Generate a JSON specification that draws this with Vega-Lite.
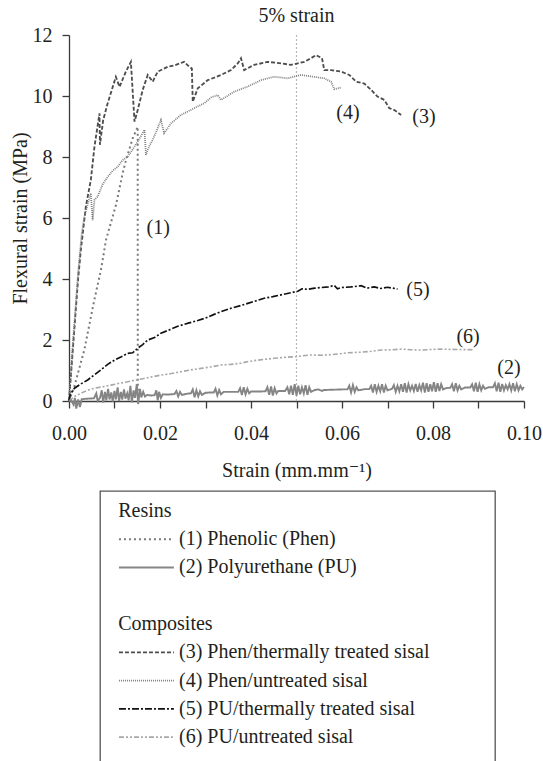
{
  "$schema": "https://vega.github.io/schema/vega-lite/v6.json",
  "padding": {"left": 10, "top": 6, "right": 0, "bottom": -6},
  "config": {
    "font": "Liberation Serif, Times New Roman, DejaVu Serif, serif",
    "view": {"stroke": null},
    "axis": {"labelFont": "Liberation Serif, Times New Roman, DejaVu Serif, serif", "titleFont": "Liberation Serif, Times New Roman, DejaVu Serif, serif", "labelFontSize": 20, "titleFontSize": 20, "titleFontWeight": "normal", "labelColor": "#231f20", "titleColor": "#231f20", "domainColor": "#3a3a3a", "tickColor": "#3a3a3a", "domainWidth": 1.3, "tickWidth": 1.3, "tickSize": 7, "grid": false},
    "title": {"font": "Liberation Serif, Times New Roman, DejaVu Serif, serif", "fontSize": 20, "fontWeight": "normal", "color": "#231f20"},
    "text": {"font": "Liberation Serif, Times New Roman, DejaVu Serif, serif", "fontSize": 20, "color": "#231f20"}
  },
  "datasets": {
    "marker": [{"strain": 0.05}],
    "labels": [
      {"tag": "(1)", "strain": 0.0196, "stress": 5.67},
      {"tag": "(2)", "strain": 0.0967, "stress": 1.08},
      {"tag": "(3)", "strain": 0.078, "stress": 9.31},
      {"tag": "(4)", "strain": 0.0613, "stress": 9.44},
      {"tag": "(5)", "strain": 0.0767, "stress": 3.64},
      {"tag": "(6)", "strain": 0.0877, "stress": 2.1}
    ],
    "legend": [
      {"row": "Resins", "label": "Resins"},
      {"row": "1", "label": "(1) Phenolic (Phen)", "series": "1"},
      {"row": "2", "label": "(2) Polyurethane (PU)", "series": "2"},
      {"row": "Composites", "label": "Composites"},
      {"row": "3", "label": "(3) Phen/thermally treated sisal", "series": "3"},
      {"row": "4", "label": "(4) Phen/untreated sisal", "series": "4"},
      {"row": "5", "label": "(5) PU/thermally treated sisal", "series": "5"},
      {"row": "6", "label": "(6) PU/untreated sisal", "series": "6"}
    ],
    "curves": [
      {"series": "1", "strain": 0, "stress": 0},
      {"series": "1", "strain": 0.00116, "stress": 0.47},
      {"series": "1", "strain": 0.00336, "stress": 1.67},
      {"series": "1", "strain": 0.00556, "stress": 3.31},
      {"series": "1", "strain": 0.00703, "stress": 4.3},
      {"series": "1", "strain": 0.00813, "stress": 5.28},
      {"series": "1", "strain": 0.01033, "stress": 6.43},
      {"series": "1", "strain": 0.0118, "stress": 7.47},
      {"series": "1", "strain": 0.01253, "stress": 7.9},
      {"series": "1", "strain": 0.014, "stress": 8.61},
      {"series": "1", "strain": 0.0151, "stress": 8.99},
      {"series": "1", "strain": 0.01512, "stress": 0.1},

      {"series": "3", "strain": 0, "stress": 0},
      {"series": "3", "strain": 0.001, "stress": 2.0},
      {"series": "3", "strain": 0.002, "stress": 4.0},
      {"series": "3", "strain": 0.0026, "stress": 4.95},
      {"series": "3", "strain": 0.0037, "stress": 6.37},
      {"series": "3", "strain": 0.0048, "stress": 7.25},
      {"series": "3", "strain": 0.0056, "stress": 8.34},
      {"series": "3", "strain": 0.0067, "stress": 9.43},
      {"series": "3", "strain": 0.0068, "stress": 8.4},
      {"series": "3", "strain": 0.0075, "stress": 9.2},
      {"series": "3", "strain": 0.0085, "stress": 9.76},
      {"series": "3", "strain": 0.0103, "stress": 10.63},
      {"series": "3", "strain": 0.0111, "stress": 10.3},
      {"series": "3", "strain": 0.0125, "stress": 10.8},
      {"series": "3", "strain": 0.0136, "stress": 11.12},
      {"series": "3", "strain": 0.0144, "stress": 9.16},
      {"series": "3", "strain": 0.0151, "stress": 9.54},
      {"series": "3", "strain": 0.0162, "stress": 10.2},
      {"series": "3", "strain": 0.0173, "stress": 10.69},
      {"series": "3", "strain": 0.0184, "stress": 10.47},
      {"series": "3", "strain": 0.0195, "stress": 10.8},
      {"series": "3", "strain": 0.0217, "stress": 10.96},
      {"series": "3", "strain": 0.0231, "stress": 11.0},
      {"series": "3", "strain": 0.0253, "stress": 11.12},
      {"series": "3", "strain": 0.0264, "stress": 10.96},
      {"series": "3", "strain": 0.027, "stress": 10.9},
      {"series": "3", "strain": 0.0272, "stress": 9.81},
      {"series": "3", "strain": 0.0283, "stress": 10.25},
      {"series": "3", "strain": 0.0305, "stress": 10.52},
      {"series": "3", "strain": 0.0334, "stress": 10.69},
      {"series": "3", "strain": 0.0356, "stress": 10.85},
      {"series": "3", "strain": 0.0371, "stress": 11.07},
      {"series": "3", "strain": 0.0378, "stress": 11.24},
      {"series": "3", "strain": 0.0385, "stress": 10.85},
      {"series": "3", "strain": 0.0407, "stress": 11.02},
      {"series": "3", "strain": 0.0437, "stress": 11.12},
      {"series": "3", "strain": 0.0466, "stress": 11.07},
      {"series": "3", "strain": 0.0488, "stress": 11.02},
      {"series": "3", "strain": 0.0517, "stress": 11.12},
      {"series": "3", "strain": 0.0532, "stress": 11.24},
      {"series": "3", "strain": 0.0543, "stress": 11.34},
      {"series": "3", "strain": 0.0556, "stress": 11.24},
      {"series": "3", "strain": 0.0561, "stress": 10.85},
      {"series": "3", "strain": 0.0576, "stress": 10.85},
      {"series": "3", "strain": 0.0598, "stress": 10.8},
      {"series": "3", "strain": 0.0616, "stress": 10.69},
      {"series": "3", "strain": 0.0631, "stress": 10.47},
      {"series": "3", "strain": 0.0649, "stress": 10.41},
      {"series": "3", "strain": 0.0664, "stress": 10.2},
      {"series": "3", "strain": 0.0678, "stress": 9.98},
      {"series": "3", "strain": 0.0693, "stress": 9.87},
      {"series": "3", "strain": 0.0704, "stress": 9.6},
      {"series": "3", "strain": 0.0715, "stress": 9.54},
      {"series": "3", "strain": 0.073, "stress": 9.38},

      {"series": "4", "strain": 0, "stress": 0},
      {"series": "4", "strain": 0.001, "stress": 2.2},
      {"series": "4", "strain": 0.002, "stress": 4.2},
      {"series": "4", "strain": 0.0028, "stress": 5.5},
      {"series": "4", "strain": 0.0034, "stress": 6.04},
      {"series": "4", "strain": 0.0042, "stress": 6.5},
      {"series": "4", "strain": 0.0048, "stress": 6.81},
      {"series": "4", "strain": 0.0052, "stress": 5.93},
      {"series": "4", "strain": 0.0056, "stress": 6.6},
      {"series": "4", "strain": 0.0063, "stress": 6.7},
      {"series": "4", "strain": 0.0074, "stress": 7.1},
      {"series": "4", "strain": 0.0085, "stress": 7.35},
      {"series": "4", "strain": 0.0096, "stress": 7.55},
      {"series": "4", "strain": 0.0107, "stress": 7.68},
      {"series": "4", "strain": 0.0118, "stress": 7.9},
      {"series": "4", "strain": 0.0129, "stress": 8.01},
      {"series": "4", "strain": 0.0144, "stress": 8.34},
      {"series": "4", "strain": 0.0155, "stress": 8.6},
      {"series": "4", "strain": 0.0166, "stress": 8.89},
      {"series": "4", "strain": 0.0169, "stress": 8.07},
      {"series": "4", "strain": 0.0176, "stress": 8.35},
      {"series": "4", "strain": 0.0184, "stress": 8.56},
      {"series": "4", "strain": 0.0195, "stress": 8.95},
      {"series": "4", "strain": 0.0202, "stress": 9.21},
      {"series": "4", "strain": 0.0209, "stress": 8.78},
      {"series": "4", "strain": 0.0224, "stress": 9.1},
      {"series": "4", "strain": 0.0246, "stress": 9.38},
      {"series": "4", "strain": 0.0261, "stress": 9.49},
      {"series": "4", "strain": 0.0275, "stress": 9.6},
      {"series": "4", "strain": 0.0297, "stress": 9.76},
      {"series": "4", "strain": 0.0312, "stress": 9.95},
      {"series": "4", "strain": 0.0327, "stress": 10.03},
      {"series": "4", "strain": 0.0334, "stress": 9.87},
      {"series": "4", "strain": 0.0363, "stress": 10.14},
      {"series": "4", "strain": 0.0393, "stress": 10.31},
      {"series": "4", "strain": 0.0422, "stress": 10.52},
      {"series": "4", "strain": 0.0451, "stress": 10.63},
      {"series": "4", "strain": 0.0481, "stress": 10.58},
      {"series": "4", "strain": 0.051, "stress": 10.69},
      {"series": "4", "strain": 0.0561, "stress": 10.58},
      {"series": "4", "strain": 0.0576, "stress": 10.47},
      {"series": "4", "strain": 0.0583, "stress": 10.22},
      {"series": "4", "strain": 0.0598, "stress": 10.28},

      {"series": "5", "strain": 0, "stress": 0},
      {"series": "5", "strain": 0.0003, "stress": 0.22},
      {"series": "5", "strain": 0.0012, "stress": 0.42},
      {"series": "5", "strain": 0.0025, "stress": 0.55},
      {"series": "5", "strain": 0.0041, "stress": 0.69},
      {"series": "5", "strain": 0.0055, "stress": 0.85},
      {"series": "5", "strain": 0.007, "stress": 1.02},
      {"series": "5", "strain": 0.0085, "stress": 1.2},
      {"series": "5", "strain": 0.01, "stress": 1.34},
      {"series": "5", "strain": 0.0115, "stress": 1.45},
      {"series": "5", "strain": 0.0129, "stress": 1.56},
      {"series": "5", "strain": 0.014, "stress": 1.58},
      {"series": "5", "strain": 0.0151, "stress": 1.73},
      {"series": "5", "strain": 0.0162, "stress": 1.85},
      {"series": "5", "strain": 0.0173, "stress": 2.0},
      {"series": "5", "strain": 0.0188, "stress": 2.08},
      {"series": "5", "strain": 0.0202, "stress": 2.22},
      {"series": "5", "strain": 0.022, "stress": 2.33},
      {"series": "5", "strain": 0.0239, "stress": 2.45},
      {"series": "5", "strain": 0.0264, "stress": 2.56},
      {"series": "5", "strain": 0.0283, "stress": 2.64},
      {"series": "5", "strain": 0.03, "stress": 2.72},
      {"series": "5", "strain": 0.0319, "stress": 2.84},
      {"series": "5", "strain": 0.0338, "stress": 2.95},
      {"series": "5", "strain": 0.0356, "stress": 3.04},
      {"series": "5", "strain": 0.0375, "stress": 3.12},
      {"series": "5", "strain": 0.0393, "stress": 3.2},
      {"series": "5", "strain": 0.041, "stress": 3.28},
      {"series": "5", "strain": 0.0429, "stress": 3.37},
      {"series": "5", "strain": 0.0448, "stress": 3.42},
      {"series": "5", "strain": 0.0466, "stress": 3.48},
      {"series": "5", "strain": 0.0485, "stress": 3.54},
      {"series": "5", "strain": 0.0503, "stress": 3.6},
      {"series": "5", "strain": 0.0512, "stress": 3.68},
      {"series": "5", "strain": 0.0525, "stress": 3.66},
      {"series": "5", "strain": 0.054, "stress": 3.7},
      {"series": "5", "strain": 0.0554, "stress": 3.72},
      {"series": "5", "strain": 0.057, "stress": 3.74},
      {"series": "5", "strain": 0.0583, "stress": 3.79},
      {"series": "5", "strain": 0.059, "stress": 3.68},
      {"series": "5", "strain": 0.0598, "stress": 3.72},
      {"series": "5", "strain": 0.062, "stress": 3.74},
      {"series": "5", "strain": 0.0642, "stress": 3.78},
      {"series": "5", "strain": 0.0655, "stress": 3.7},
      {"series": "5", "strain": 0.0671, "stress": 3.74},
      {"series": "5", "strain": 0.0685, "stress": 3.69},
      {"series": "5", "strain": 0.07, "stress": 3.73},
      {"series": "5", "strain": 0.0712, "stress": 3.7},
      {"series": "5", "strain": 0.0722, "stress": 3.67},

      {"series": "6", "strain": 0, "stress": 0},
      {"series": "6", "strain": 0.0012, "stress": 0.15},
      {"series": "6", "strain": 0.0026, "stress": 0.25},
      {"series": "6", "strain": 0.004, "stress": 0.35},
      {"series": "6", "strain": 0.0056, "stress": 0.42},
      {"series": "6", "strain": 0.0075, "stress": 0.47},
      {"series": "6", "strain": 0.0092, "stress": 0.52},
      {"series": "6", "strain": 0.011, "stress": 0.58},
      {"series": "6", "strain": 0.0129, "stress": 0.63},
      {"series": "6", "strain": 0.0147, "stress": 0.69},
      {"series": "6", "strain": 0.0165, "stress": 0.74},
      {"series": "6", "strain": 0.0185, "stress": 0.8},
      {"series": "6", "strain": 0.0202, "stress": 0.85},
      {"series": "6", "strain": 0.0225, "stress": 0.9},
      {"series": "6", "strain": 0.0246, "stress": 0.96},
      {"series": "6", "strain": 0.0268, "stress": 1.02},
      {"series": "6", "strain": 0.029, "stress": 1.07},
      {"series": "6", "strain": 0.0312, "stress": 1.12},
      {"series": "6", "strain": 0.0334, "stress": 1.18},
      {"series": "6", "strain": 0.0356, "stress": 1.2},
      {"series": "6", "strain": 0.0378, "stress": 1.24},
      {"series": "6", "strain": 0.0396, "stress": 1.3},
      {"series": "6", "strain": 0.0415, "stress": 1.34},
      {"series": "6", "strain": 0.0433, "stress": 1.37},
      {"series": "6", "strain": 0.0451, "stress": 1.4},
      {"series": "6", "strain": 0.0473, "stress": 1.43},
      {"series": "6", "strain": 0.0495, "stress": 1.45},
      {"series": "6", "strain": 0.0513, "stress": 1.48},
      {"series": "6", "strain": 0.0532, "stress": 1.51},
      {"series": "6", "strain": 0.0555, "stress": 1.5},
      {"series": "6", "strain": 0.0576, "stress": 1.52},
      {"series": "6", "strain": 0.0595, "stress": 1.55},
      {"series": "6", "strain": 0.0613, "stress": 1.58},
      {"series": "6", "strain": 0.0642, "stress": 1.6},
      {"series": "6", "strain": 0.0665, "stress": 1.63},
      {"series": "6", "strain": 0.0686, "stress": 1.67},
      {"series": "6", "strain": 0.071, "stress": 1.68},
      {"series": "6", "strain": 0.073, "stress": 1.7},
      {"series": "6", "strain": 0.0752, "stress": 1.68},
      {"series": "6", "strain": 0.0774, "stress": 1.67},
      {"series": "6", "strain": 0.0796, "stress": 1.69},
      {"series": "6", "strain": 0.0818, "stress": 1.7},
      {"series": "6", "strain": 0.085, "stress": 1.69},
      {"series": "6", "strain": 0.0891, "stress": 1.68},

      {"series": "2", "strain": 0, "stress": 0},
      {"series": "2", "strain": 0.0005, "stress": 0.02},
      {"series": "2", "strain": 0.001, "stress": -0.12},
      {"series": "2", "strain": 0.0013, "stress": 0.1},
      {"series": "2", "strain": 0.0016, "stress": -0.25},
      {"series": "2", "strain": 0.002, "stress": 0.05},
      {"series": "2", "strain": 0.0024, "stress": -0.2},
      {"series": "2", "strain": 0.0028, "stress": 0.06},
      {"series": "2", "strain": 0.0035, "stress": 0.07},
      {"series": "2", "strain": 0.0045, "stress": 0.08},
      {"series": "2", "strain": 0.0055, "stress": 0.09},
      {"series": "2", "strain": 0.006, "stress": 0.25},
      {"series": "2", "strain": 0.0063, "stress": 0.0},
      {"series": "2", "strain": 0.0068, "stress": 0.1},
      {"series": "2", "strain": 0.0072, "stress": 0.35},
      {"series": "2", "strain": 0.0075, "stress": -0.05},
      {"series": "2", "strain": 0.0079, "stress": 0.3},
      {"series": "2", "strain": 0.0082, "stress": 0.02},
      {"series": "2", "strain": 0.0086, "stress": 0.4},
      {"series": "2", "strain": 0.0089, "stress": 0.05},
      {"series": "2", "strain": 0.0093, "stress": 0.28},
      {"series": "2", "strain": 0.0096, "stress": -0.02},
      {"series": "2", "strain": 0.01, "stress": 0.33},
      {"series": "2", "strain": 0.0103, "stress": 0.05},
      {"series": "2", "strain": 0.0107, "stress": 0.45},
      {"series": "2", "strain": 0.011, "stress": 0.0},
      {"series": "2", "strain": 0.0114, "stress": 0.3},
      {"series": "2", "strain": 0.0117, "stress": 0.05},
      {"series": "2", "strain": 0.0121, "stress": 0.38},
      {"series": "2", "strain": 0.0124, "stress": 0.08},
      {"series": "2", "strain": 0.0128, "stress": 0.25},
      {"series": "2", "strain": 0.0131, "stress": 0.02},
      {"series": "2", "strain": 0.0135, "stress": 0.5},
      {"series": "2", "strain": 0.0138, "stress": -0.05},
      {"series": "2", "strain": 0.0142, "stress": 0.35},
      {"series": "2", "strain": 0.0145, "stress": 0.1},
      {"series": "2", "strain": 0.0149, "stress": 0.55},
      {"series": "2", "strain": 0.0152, "stress": -0.1},
      {"series": "2", "strain": 0.0156, "stress": 0.4},
      {"series": "2", "strain": 0.0159, "stress": 0.12},
      {"series": "2", "strain": 0.0163, "stress": 0.3},
      {"series": "2", "strain": 0.0167, "stress": 0.15},
      {"series": "2", "strain": 0.0172, "stress": 0.2},
      {"series": "2", "strain": 0.018, "stress": 0.18},
      {"series": "2", "strain": 0.0188, "stress": 0.19},
      {"series": "2", "strain": 0.0192, "stress": 0.35},
      {"series": "2", "strain": 0.0195, "stress": 0.02},
      {"series": "2", "strain": 0.0198, "stress": 0.3},
      {"series": "2", "strain": 0.0202, "stress": 0.1},
      {"series": "2", "strain": 0.0206, "stress": 0.22},
      {"series": "2", "strain": 0.0215, "stress": 0.21},
      {"series": "2", "strain": 0.0225, "stress": 0.22},
      {"series": "2", "strain": 0.0232, "stress": 0.23},
      {"series": "2", "strain": 0.0236, "stress": 0.33},
      {"series": "2", "strain": 0.024, "stress": 0.15},
      {"series": "2", "strain": 0.0244, "stress": 0.3},
      {"series": "2", "strain": 0.0248, "stress": 0.2},
      {"series": "2", "strain": 0.026, "stress": 0.24},
      {"series": "2", "strain": 0.0268, "stress": 0.25},
      {"series": "2", "strain": 0.0272, "stress": 0.38},
      {"series": "2", "strain": 0.0276, "stress": 0.12},
      {"series": "2", "strain": 0.028, "stress": 0.35},
      {"series": "2", "strain": 0.0284, "stress": 0.15},
      {"series": "2", "strain": 0.0288, "stress": 0.32},
      {"series": "2", "strain": 0.0292, "stress": 0.2},
      {"series": "2", "strain": 0.03, "stress": 0.27},
      {"series": "2", "strain": 0.0312, "stress": 0.28},
      {"series": "2", "strain": 0.0318, "stress": 0.28},
      {"series": "2", "strain": 0.0322, "stress": 0.4},
      {"series": "2", "strain": 0.0326, "stress": 0.18},
      {"series": "2", "strain": 0.033, "stress": 0.36},
      {"series": "2", "strain": 0.0334, "stress": 0.22},
      {"series": "2", "strain": 0.034, "stress": 0.3},
      {"series": "2", "strain": 0.036, "stress": 0.3},
      {"series": "2", "strain": 0.0372, "stress": 0.3},
      {"series": "2", "strain": 0.0376, "stress": 0.42},
      {"series": "2", "strain": 0.038, "stress": 0.2},
      {"series": "2", "strain": 0.0384, "stress": 0.45},
      {"series": "2", "strain": 0.0388, "stress": 0.22},
      {"series": "2", "strain": 0.0392, "stress": 0.4},
      {"series": "2", "strain": 0.0396, "stress": 0.25},
      {"series": "2", "strain": 0.04, "stress": 0.31},
      {"series": "2", "strain": 0.042, "stress": 0.31},
      {"series": "2", "strain": 0.0432, "stress": 0.32},
      {"series": "2", "strain": 0.0436, "stress": 0.45},
      {"series": "2", "strain": 0.044, "stress": 0.2},
      {"series": "2", "strain": 0.0444, "stress": 0.48},
      {"series": "2", "strain": 0.0448, "stress": 0.18},
      {"series": "2", "strain": 0.0452, "stress": 0.42},
      {"series": "2", "strain": 0.0456, "stress": 0.25},
      {"series": "2", "strain": 0.046, "stress": 0.33},
      {"series": "2", "strain": 0.0475, "stress": 0.33},
      {"series": "2", "strain": 0.048, "stress": 0.45},
      {"series": "2", "strain": 0.0484, "stress": 0.22},
      {"series": "2", "strain": 0.0488, "stress": 0.5},
      {"series": "2", "strain": 0.0492, "stress": 0.2},
      {"series": "2", "strain": 0.0496, "stress": 0.55},
      {"series": "2", "strain": 0.05, "stress": 0.18},
      {"series": "2", "strain": 0.0504, "stress": 0.5},
      {"series": "2", "strain": 0.0508, "stress": 0.22},
      {"series": "2", "strain": 0.0512, "stress": 0.45},
      {"series": "2", "strain": 0.0516, "stress": 0.25},
      {"series": "2", "strain": 0.052, "stress": 0.52},
      {"series": "2", "strain": 0.0524, "stress": 0.2},
      {"series": "2", "strain": 0.0528, "stress": 0.45},
      {"series": "2", "strain": 0.0532, "stress": 0.3},
      {"series": "2", "strain": 0.054, "stress": 0.36},
      {"series": "2", "strain": 0.0548, "stress": 0.38},
      {"series": "2", "strain": 0.0556, "stress": 0.33},
      {"series": "2", "strain": 0.056, "stress": 0.36},
      {"series": "2", "strain": 0.058, "stress": 0.37},
      {"series": "2", "strain": 0.06, "stress": 0.38},
      {"series": "2", "strain": 0.0612, "stress": 0.38},
      {"series": "2", "strain": 0.0616, "stress": 0.5},
      {"series": "2", "strain": 0.062, "stress": 0.28},
      {"series": "2", "strain": 0.0624, "stress": 0.52},
      {"series": "2", "strain": 0.0628, "stress": 0.3},
      {"series": "2", "strain": 0.0632, "stress": 0.45},
      {"series": "2", "strain": 0.0636, "stress": 0.35},
      {"series": "2", "strain": 0.065, "stress": 0.39},
      {"series": "2", "strain": 0.066, "stress": 0.39},
      {"series": "2", "strain": 0.0664, "stress": 0.5},
      {"series": "2", "strain": 0.0668, "stress": 0.28},
      {"series": "2", "strain": 0.0672, "stress": 0.55},
      {"series": "2", "strain": 0.0676, "stress": 0.3},
      {"series": "2", "strain": 0.068, "stress": 0.5},
      {"series": "2", "strain": 0.0684, "stress": 0.32},
      {"series": "2", "strain": 0.0688, "stress": 0.55},
      {"series": "2", "strain": 0.0692, "stress": 0.28},
      {"series": "2", "strain": 0.0696, "stress": 0.5},
      {"series": "2", "strain": 0.07, "stress": 0.35},
      {"series": "2", "strain": 0.071, "stress": 0.4},
      {"series": "2", "strain": 0.0714, "stress": 0.52},
      {"series": "2", "strain": 0.0718, "stress": 0.3},
      {"series": "2", "strain": 0.0722, "stress": 0.5},
      {"series": "2", "strain": 0.0726, "stress": 0.32},
      {"series": "2", "strain": 0.073, "stress": 0.55},
      {"series": "2", "strain": 0.0734, "stress": 0.3},
      {"series": "2", "strain": 0.0738, "stress": 0.58},
      {"series": "2", "strain": 0.0742, "stress": 0.28},
      {"series": "2", "strain": 0.0746, "stress": 0.55},
      {"series": "2", "strain": 0.075, "stress": 0.35},
      {"series": "2", "strain": 0.0754, "stress": 0.5},
      {"series": "2", "strain": 0.0758, "stress": 0.33},
      {"series": "2", "strain": 0.0762, "stress": 0.56},
      {"series": "2", "strain": 0.0766, "stress": 0.3},
      {"series": "2", "strain": 0.077, "stress": 0.52},
      {"series": "2", "strain": 0.0774, "stress": 0.35},
      {"series": "2", "strain": 0.0778, "stress": 0.6},
      {"series": "2", "strain": 0.0782, "stress": 0.28},
      {"series": "2", "strain": 0.0786, "stress": 0.58},
      {"series": "2", "strain": 0.079, "stress": 0.3},
      {"series": "2", "strain": 0.0794, "stress": 0.55},
      {"series": "2", "strain": 0.0798, "stress": 0.32},
      {"series": "2", "strain": 0.0802, "stress": 0.62},
      {"series": "2", "strain": 0.0806, "stress": 0.3},
      {"series": "2", "strain": 0.081, "stress": 0.58},
      {"series": "2", "strain": 0.0814, "stress": 0.33},
      {"series": "2", "strain": 0.0818, "stress": 0.55},
      {"series": "2", "strain": 0.0822, "stress": 0.38},
      {"series": "2", "strain": 0.083, "stress": 0.43},
      {"series": "2", "strain": 0.0838, "stress": 0.43},
      {"series": "2", "strain": 0.0842, "stress": 0.55},
      {"series": "2", "strain": 0.0846, "stress": 0.32},
      {"series": "2", "strain": 0.085, "stress": 0.58},
      {"series": "2", "strain": 0.0854, "stress": 0.35},
      {"series": "2", "strain": 0.0858, "stress": 0.5},
      {"series": "2", "strain": 0.0862, "stress": 0.38},
      {"series": "2", "strain": 0.087, "stress": 0.44},
      {"series": "2", "strain": 0.0882, "stress": 0.44},
      {"series": "2", "strain": 0.0886, "stress": 0.55},
      {"series": "2", "strain": 0.089, "stress": 0.32},
      {"series": "2", "strain": 0.0894, "stress": 0.6},
      {"series": "2", "strain": 0.0898, "stress": 0.3},
      {"series": "2", "strain": 0.0902, "stress": 0.55},
      {"series": "2", "strain": 0.0906, "stress": 0.35},
      {"series": "2", "strain": 0.091, "stress": 0.5},
      {"series": "2", "strain": 0.0914, "stress": 0.4},
      {"series": "2", "strain": 0.0922, "stress": 0.45},
      {"series": "2", "strain": 0.0932, "stress": 0.45},
      {"series": "2", "strain": 0.0936, "stress": 0.58},
      {"series": "2", "strain": 0.094, "stress": 0.32},
      {"series": "2", "strain": 0.0944, "stress": 0.6},
      {"series": "2", "strain": 0.0948, "stress": 0.3},
      {"series": "2", "strain": 0.0952, "stress": 0.56},
      {"series": "2", "strain": 0.0956, "stress": 0.35},
      {"series": "2", "strain": 0.096, "stress": 0.52},
      {"series": "2", "strain": 0.0964, "stress": 0.38},
      {"series": "2", "strain": 0.0968, "stress": 0.55},
      {"series": "2", "strain": 0.0972, "stress": 0.35},
      {"series": "2", "strain": 0.0976, "stress": 0.58},
      {"series": "2", "strain": 0.098, "stress": 0.32},
      {"series": "2", "strain": 0.0984, "stress": 0.55},
      {"series": "2", "strain": 0.0988, "stress": 0.35},
      {"series": "2", "strain": 0.0992, "stress": 0.5},
      {"series": "2", "strain": 0.0996, "stress": 0.38},
      {"series": "2", "strain": 0.1, "stress": 0.46}
    ]
  },
  "spacing": 1,
  "resolve": {"scale": {"x": "independent", "y": "independent"}},
  "vconcat": [
    {
      "width": 455,
      "height": 366,
      "title": {"text": "5% strain", "offset": -1, "font": "Liberation Serif, Times New Roman, DejaVu Serif, serif", "fontSize": 20, "fontWeight": "normal"},
      "layer": [
        {
          "data": {"name": "marker"},
          "mark": {"type": "rule", "color": "#b8b8b8", "strokeDash": [2, 2], "strokeWidth": 1.2},
          "encoding": {
            "x": {"field": "strain", "type": "quantitative", "title": "Strain (mm.mm⁻¹)"},
            "y": {"datum": 0, "type": "quantitative", "title": "Flexural strain (MPa)"},
            "y2": {"datum": 12}
          }
        },
        {
          "data": {"name": "curves"},
          "mark": {"type": "line", "clip": false},
          "encoding": {
            "x": {
              "field": "strain", "type": "quantitative", "title": "Strain (mm.mm⁻¹)",
              "scale": {"domain": [0, 0.1], "nice": false, "zero": false},
              "axis": {"values": [0, 0.01, 0.02, 0.03, 0.04, 0.05, 0.06, 0.07, 0.08, 0.09, 0.1], "labelExpr": "round(datum.value*100) % 2 == 0 ? format(datum.value, '.2f') : ''", "labelPadding": 15, "titlePadding": 17, "labelFlush": false, "labelOverlap": false, "labelFont": "Liberation Serif, Times New Roman, DejaVu Serif, serif", "titleFont": "Liberation Serif, Times New Roman, DejaVu Serif, serif", "labelFontSize": 20, "titleFontSize": 20, "titleFontWeight": "normal"}
            },
            "y": {
              "field": "stress", "type": "quantitative", "title": "Flexural strain (MPa)",
              "scale": {"domain": [0, 12], "nice": false},
              "axis": {"values": [0, 1, 2, 3, 4, 5, 6, 7, 8, 9, 10, 11, 12], "labelExpr": "datum.value % 2 == 0 ? datum.label : ''", "labelPadding": 10, "titlePadding": 2, "labelOverlap": false, "labelFont": "Liberation Serif, Times New Roman, DejaVu Serif, serif", "titleFont": "Liberation Serif, Times New Roman, DejaVu Serif, serif", "labelFontSize": 20, "titleFontSize": 20, "titleFontWeight": "normal"}
            },
            "detail": {"field": "series"},
            "color": {"field": "series", "type": "nominal", "legend": null, "scale": {"domain": ["1", "2", "3", "4", "5", "6"], "range": ["#7a7a7a", "#858585", "#4d4d4d", "#808080", "#111111", "#a8a8a8"]}},
            "strokeDash": {"field": "series", "type": "nominal", "legend": null, "scale": {"domain": ["1", "2", "3", "4", "5", "6"], "range": [[2, 3], [1, 0], [4, 2], [1, 1], [7, 2, 2, 2], [5, 2, 2, 2, 2, 2]]}},
            "strokeWidth": {"field": "series", "type": "ordinal", "legend": null, "scale": {"domain": ["1", "2", "3", "4", "5", "6"], "range": [2, 1.6, 2.2, 2, 2.6, 2.2]}}
          }
        },
        {
          "data": {"name": "labels"},
          "mark": {"type": "text", "align": "center", "baseline": "middle", "fontSize": 20, "font": "Liberation Serif, Times New Roman, DejaVu Serif, serif", "color": "#231f20"},
          "encoding": {
            "x": {"field": "strain", "type": "quantitative"},
            "y": {"field": "stress", "type": "quantitative"},
            "text": {"field": "tag"}
          }
        }
      ]
    },
    {
      "spacing": 0,
      "resolve": {"scale": {"x": "independent", "y": "independent"}},
      "hconcat": [
        {
          "width": 30,
          "height": 1,
          "data": {"values": [{}]},
          "mark": {"type": "text", "text": ""}
        },
        {
          "width": 395,
          "height": 280,
          "view": {"stroke": "#555555", "strokeWidth": 1.3},
          "data": {"name": "legend"},
          "encoding": {
            "y": {"field": "row", "type": "ordinal", "axis": null, "scale": {"type": "point", "domain": ["Resins", "1", "2", "gap", "Composites", "3", "4", "5", "6"], "padding": 0.95, "align": 0.37}}
          },
          "layer": [
            {
              "transform": [{"filter": "isValid(datum.series)"}],
              "mark": {"type": "rule"},
              "encoding": {
                "x": {"datum": 0.048, "type": "quantitative", "axis": null, "scale": {"domain": [0, 1], "nice": false}},
                "x2": {"datum": 0.187},
                "color": {"field": "series", "type": "nominal", "legend": null, "scale": {"domain": ["1", "2", "3", "4", "5", "6"], "range": ["#7a7a7a", "#858585", "#4d4d4d", "#808080", "#111111", "#a8a8a8"]}},
                "strokeDash": {"field": "series", "type": "nominal", "legend": null, "scale": {"domain": ["1", "2", "3", "4", "5", "6"], "range": [[2, 3], [1, 0], [4, 2], [1, 1], [7, 2, 2, 2], [5, 2, 2, 2, 2, 2]]}},
                "strokeWidth": {"field": "series", "type": "ordinal", "legend": null, "scale": {"domain": ["1", "2", "3", "4", "5", "6"], "range": [2, 1.6, 2.2, 2, 2.6, 2.2]}}
              }
            },
            {
              "transform": [{"filter": "isValid(datum.series)"}],
              "mark": {"type": "text", "align": "left", "baseline": "middle", "fontSize": 20, "font": "Liberation Serif, Times New Roman, DejaVu Serif, serif", "color": "#231f20"},
              "encoding": {
                "x": {"datum": 0.2, "type": "quantitative"},
                "text": {"field": "label"}
              }
            },
            {
              "transform": [{"filter": "!isValid(datum.series)"}],
              "mark": {"type": "text", "align": "left", "baseline": "middle", "fontSize": 20, "font": "Liberation Serif, Times New Roman, DejaVu Serif, serif", "color": "#231f20"},
              "encoding": {
                "x": {"datum": 0.046, "type": "quantitative"},
                "text": {"field": "label"}
              }
            }
          ]
        }
      ]
    }
  ]
}
